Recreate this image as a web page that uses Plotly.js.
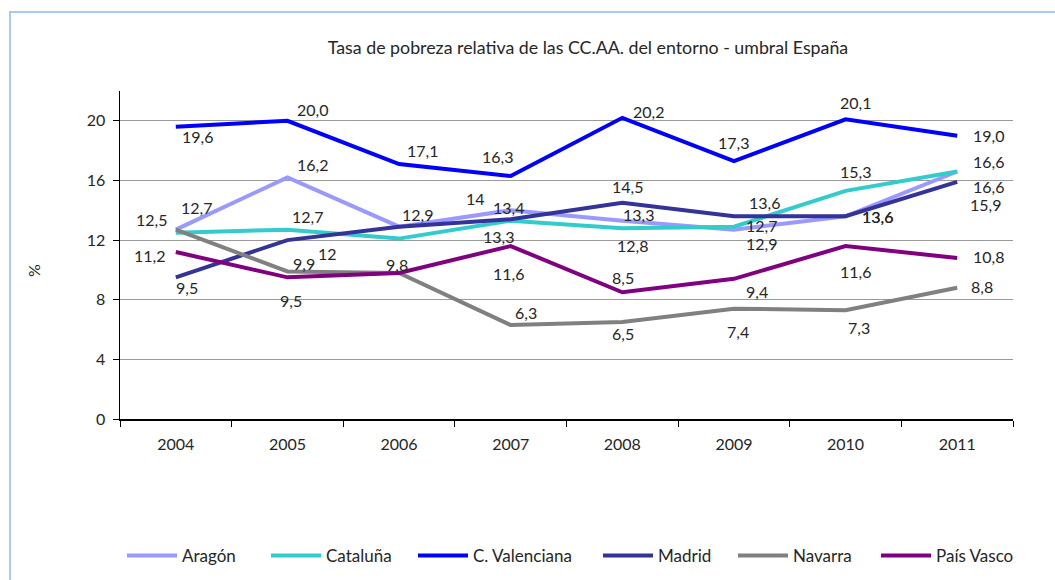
<!DOCTYPE html>
<html>
<head>
<meta charset="utf-8">
<script src="https://cdn.plot.ly/plotly-3.0.1.min.js"></script>
<style>
  html, body { margin: 0; padding: 0; background: #fff; }
  #wrap { position: relative; width: 1055px; height: 580px; }
  #chart { position: absolute; left: 0; top: 0; width: 1055px; height: 580px; }
  #frame { position: absolute; left: 9px; top: 11px; width: 1100px; height: 600px;
           border-left: 2px solid #a9cbf2; border-top: 2px solid #a9cbf2; pointer-events: none; }
</style>
</head>
<body>
<div id="wrap">
  <div id="chart"></div>
  <div id="frame"></div>
</div>
<script>
// ---- data ----
const years = ["2004", "2005", "2006", "2007", "2008", "2009", "2010", "2011"];
const aragon      = [12.7, 16.2, 12.9, 14.0, 13.3, 12.7, 13.6, 16.6];
const cataluna    = [12.5, 12.7, 12.1, 13.3, 12.8, 12.9, 15.3, 16.6];
const valenciana  = [19.6, 20.0, 17.1, 16.3, 20.2, 17.3, 20.1, 19.0];
const madrid      = [9.5, 12.0, 12.9, 13.4, 14.5, 13.6, 13.6, 15.9];
const navarra     = [12.7, 9.9, 9.8, 6.3, 6.5, 7.4, 7.3, 8.8];
const paisVasco   = [11.2, 9.5, 9.8, 11.6, 8.5, 9.4, 11.6, 10.8];
const seriesNames = ["Aragón", "Cataluña", "C. Valenciana", "Madrid", "Navarra", "País Vasco"];
// label texts as shown on the chart (null = no separate label visible)
const aragonLabels     = ["12,7", "16,2", "12,9", "14", "13,3", "12,7", "13,6", "16,6"];
const catalunaLabels   = ["12,5", "12,7", null, "13,3", "12,8", "12,9", "15,3", "16,6"];
const valencianaLabels = ["19,6", "20,0", "17,1", "16,3", "20,2", "17,3", "20,1", "19,0"];
const madridLabels     = ["9,5", "12", null, "13,4", "14,5", "13,6", "13,6", "15,9"];
const navarraLabels    = [null, "9,9", "9,8", "6,3", "6,5", "7,4", "7,3", "8,8"];
const paisVascoLabels  = ["11,2", "9,5", null, "11,6", "8,5", "9,4", "11,6", "10,8"];
const yTicks = [0, 4, 8, 12, 16, 20];
const yTitle = "%";

// ---- styling ----
const colors = ["#9999ff", "#33cccc", "#0000ff", "#333399", "#808080", "#800080"];
// label offsets in pixels [dx, dy(down)] per point, per series
const labelOffsets = [
  [[21,-22],[25,-13],[18,-12],[-35,-12],[16,-6],[28,-4],[32,0],[31,-10]],
  [[-24,-13],[20,-13],[0,0],[-12,16],[10,17],[28,17],[10,-19],[31,15]],
  [[22,10],[25,-11],[23,-14],[-13,-19],[26,-6],[0,-19],[10,-17],[31,0]],
  [[11,10],[40,13],[18,-12],[-2,-12],[5,-16],[31,-14],[32,0],[28,23]],
  [[21,-22],[17,-8],[-2,-8],[15,-13],[1,11],[4,23],[13,17],[25,-1]],
  [[-26,3],[4,23],[-2,-8],[-2,27],[1,-15],[23,13],[10,25],[31,-1]]
];
// legend entry left edges (px) as in the reference
const legendX = [122, 266, 413, 598, 733, 876];

const values = [aragon, cataluna, valenciana, madrid, navarra, paisVasco];
const labels = [aragonLabels, catalunaLabels, valencianaLabels, madridLabels, navarraLabels, paisVascoLabels];
const FONT = "Lato, 'Open Sans', sans-serif";
const TXT = "#262626";

const legendKey = i => (i === 0 ? "legend" : "legend" + (i + 1));

const traces = values.map((v, i) => ({
  type: "scatter",
  mode: "lines",
  name: seriesNames[i],
  x: years,
  y: v,
  line: { color: colors[i], width: 4 },
  legend: legendKey(i),
  hoverinfo: "x+y+name"
}));

const annotations = [];
values.forEach((v, i) => {
  v.forEach((val, j) => {
    const t = labels[i][j];
    if (t === null) return;
    annotations.push({
      x: j, y: val, xref: "x", yref: "y",
      text: t, showarrow: false,
      xanchor: "center", yanchor: "middle",
      xshift: labelOffsets[i][j][0], yshift: -labelOffsets[i][j][1],
      font: { family: FONT, size: 16, color: TXT }
    });
  });
});
annotations.push({
  text: yTitle, xref: "paper", yref: "paper",
  x: (33 - 120) / 893, y: (419 - 271) / 328, showarrow: false, textangle: -90,
  xanchor: "center", yanchor: "middle",
  font: { family: FONT, size: 16, color: TXT }
});

const layout = {
  width: 1055, height: 580,
  margin: { l: 120, r: 42, t: 91, b: 161 },
  paper_bgcolor: "#ffffff", plot_bgcolor: "#ffffff",
  font: { family: FONT, size: 16, color: TXT },
  title: {
    text: "Tasa de pobreza relativa de las CC.AA. del entorno - umbral España",
    xref: "container", yref: "container",
    x: 588 / 1055, y: 1 - 48 / 580, xanchor: "center", yanchor: "middle",
    font: { family: FONT, size: 17.8, color: TXT }
  },
  xaxis: {
    type: "category", range: [-0.5, 7.5],
    tickson: "boundaries", ticks: "outside", ticklen: 6, tickcolor: "#000",
    showline: true, linecolor: "#000", linewidth: 1.5,
    showgrid: false, zeroline: false, ticklabelstandoff: 10,
    tickfont: { family: FONT, size: 16, color: TXT }
  },
  yaxis: {
    range: [0, 22], tickvals: yTicks, ticktext: yTicks.map(String),
    ticks: "outside", ticklen: 6, tickcolor: "#000",
    showline: true, linecolor: "#000", linewidth: 1.5,
    showgrid: true, gridcolor: "#9a9a9a", gridwidth: 1, zeroline: false,
    ticklabelstandoff: 4,
    tickfont: { family: FONT, size: 16, color: TXT }
  },
  showlegend: true,
  annotations: annotations
};
legendX.forEach((lx, i) => {
  layout[legendKey(i)] = {
    orientation: "h", xref: "container", yref: "container",
    x: lx / 1055, y: 1 - 556 / 580, xanchor: "left", yanchor: "middle",
    font: { family: FONT, size: 17, color: TXT },
    bgcolor: "rgba(0,0,0,0)", itemwidth: 50
  };
});

Plotly.newPlot("chart", traces, layout, { displayModeBar: false, staticPlot: true });
</script>
</body>
</html>
